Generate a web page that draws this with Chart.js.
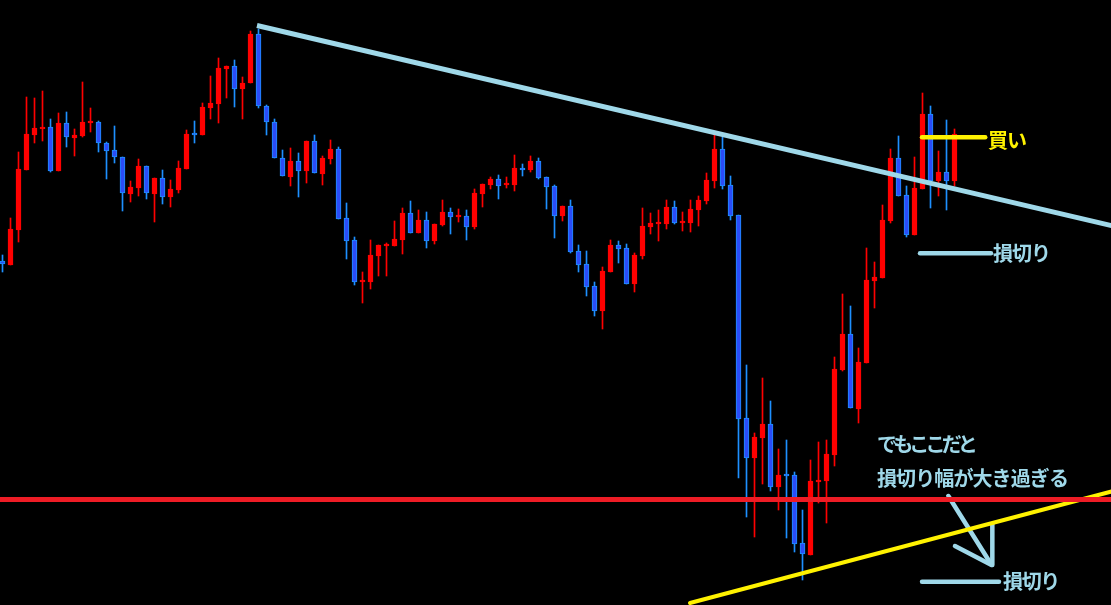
<!DOCTYPE html>
<html>
<head>
<meta charset="utf-8">
<script src="https://cdn.jsdelivr.net/npm/chart.js@4.4.0/dist/chart.umd.min.js"></script>
<style>
  html, body { margin: 0; padding: 0; background: #000; }
  #wrap { width: 1111px; height: 605px; background: #000; }
</style>
</head>
<body>
<div id="wrap"><canvas id="c" width="1111" height="605"></canvas></div>
<script>
// ---- Candle data (price units, 120 bars) ----
const candleOpen = [
  344,340,375,435,470,476,478,434,482,467,469,482,483,462,455,448,411,417,439,411,
  427,408,415,436,471,470,497,501,536,539,516,522,571,499,483,447,428,444,434,464,
  431,446,456,387,365,323,323,349,359,359,365,392,372,385,364,380,393,388,389,378,
  411,420,426,420,420,436,435,444,428,419,389,399,354,341,319,294,333,360,357,321,
  349,378,381,381,398,382,382,395,404,424,456,420,390,187,147,167,181,118,130,130,
  62,50,123,124,150,235,271,196,242,324,327,384,447,410,370,416,491,424,433,424
];
const candleHigh = [
  350,387,453,508,507,514,486,492,493,476,523,497,484,463,479,448,424,446,439,427,
  435,425,444,475,484,502,529,547,539,545,528,574,576,500,486,455,457,452,464,470,
  449,465,458,402,368,333,365,360,362,384,397,404,395,393,381,405,397,396,395,416,
  421,428,430,428,450,441,449,447,428,420,399,405,360,354,323,338,365,364,361,352,
  397,392,395,405,404,393,405,409,432,471,468,429,390,240,172,227,204,156,165,133,
  95,145,163,165,248,311,299,257,357,343,400,456,469,419,448,512,499,454,485,476
];
const candleLow = [
  333,340,363,435,462,464,433,434,458,449,468,473,453,426,442,394,403,409,406,383,
  401,398,412,436,462,470,486,482,507,498,486,522,497,470,447,429,419,408,422,432,
  420,441,386,346,320,302,316,329,329,359,351,372,372,357,361,379,371,383,365,376,
  398,416,406,417,414,429,433,426,396,367,384,352,333,309,289,276,333,342,321,313,
  346,371,364,376,381,374,373,379,401,417,416,385,127,88,68,121,114,95,67,53,
  25,50,102,82,139,234,197,182,242,297,327,382,409,368,370,416,397,409,395,419
];
const candleClose = [
  341,376,436,471,477,478,434,482,468,470,483,483,462,454,448,412,418,439,412,427,
  408,416,437,471,470,498,502,537,539,516,522,571,499,483,447,429,444,434,464,432,
  447,456,386,364,323,324,350,360,360,366,392,372,385,364,381,393,388,389,378,412,
  421,426,419,421,437,435,444,427,418,389,399,353,340,318,294,334,360,356,321,350,
  379,382,382,398,382,383,396,405,425,456,419,389,186,147,168,181,118,130,129,61,
  51,124,124,151,236,271,197,243,325,328,385,447,409,370,417,491,424,433,424,471
];

// ---- Drawn objects (price/bar-index units) ----
const resistanceLine = [{x: 31.81, y: 579.5}, {x: 139.69, y: 377.4}];
const horizontalLevel = [{x: -1, y: 105.5}, {x: 140, y: 105.5}];
const supportLine = [{x: 85.94, y: 2}, {x: 139.69, y: 115.8}];
const buyMarker = [{x: 114.94, y: 467.7}, {x: 122.84, y: 467.7}];
const stopMarkerHigh = [{x: 114.69, y: 351.7}, {x: 123.56, y: 351.7}];
const stopMarkerLow = [{x: 114.94, y: 23.3}, {x: 124.56, y: 23.3}];
const arrowShaft = [{x: 118.23, y: 109}, {x: 123.56, y: 41}];
const arrowHeadA = [{x: 119.06, y: 59}, {x: 123.63, y: 40}];
const arrowHeadB = [{x: 123.73, y: 81}, {x: 123.73, y: 40}];

const labelTexts = ['買い', '損切り', 'でもここだと', '損切り幅が大き過ぎる', '損切り'];
const labelX = [123.19, 123.81, 109.31, 109.31, 125.06];
const labelY = [465, 352, 161, 126.5, 24];

// ---- styles ----
const UP = '#ff0000', DOWN_FILL = '#2b4cf7', DOWN_EDGE = '#1e90ff';
const LBLUE = '#9fd8e9', YEL = '#fff200', HRED = '#ee1c25';
const labelColors = [YEL, LBLUE, LBLUE, LBLUE, LBLUE];
const labelWidths = [38, 57, 97, 191, 56];

const idx = candleOpen.map((_, i) => i);
const isUp = idx.map(i => candleClose[i] >= candleOpen[i]);

function lineDs(data, color, width, cap) {
  return {
    type: 'line', data, borderColor: color, borderWidth: width,
    borderCapStyle: cap || 'butt', pointRadius: 0, pointHoverRadius: 0,
    tension: 0, fill: false, order: 0, clip: false
  };
}

const labelPlugin = {
  id: 'labels',
  afterDatasetsDraw(chart) {
    const ctx = chart.ctx, xs = chart.scales.x, ys = chart.scales.y;
    ctx.save();
    ctx.textBaseline = 'middle';
    ctx.textAlign = 'left';
    labelTexts.forEach((t, k) => {
      ctx.font = 'bold 20px "Noto Sans CJK JP", "Noto Sans", sans-serif';
      ctx.letterSpacing = '0px';
      const w = ctx.measureText(t).width;
      const sp = (labelWidths[k] - w) / t.length;
      ctx.letterSpacing = sp.toFixed(2) + 'px';
      ctx.fillStyle = labelColors[k];
      ctx.fillText(t, xs.getPixelForValue(labelX[k]), ys.getPixelForValue(labelY[k]));
    });
    ctx.restore();
  }
};

new Chart(document.getElementById('c'), {
  type: 'bar',
  data: {
    datasets: [
      lineDs(resistanceLine, LBLUE, 5),
      lineDs(horizontalLevel, HRED, 5),
      lineDs(supportLine, YEL, 4, 'round'),
      lineDs(buyMarker, YEL, 4.5, 'round'),
      lineDs(stopMarkerHigh, LBLUE, 4.5, 'round'),
      lineDs(stopMarkerLow, LBLUE, 4.5, 'round'),
      lineDs(arrowShaft, LBLUE, 4.5, 'round'),
      lineDs(arrowHeadA, LBLUE, 4.5, 'round'),
      lineDs(arrowHeadB, LBLUE, 4.5, 'round'),
      {
        type: 'bar', order: 1, grouped: false,
        data: idx.map(i => ({x: i, y: [candleOpen[i], candleClose[i]]})),
        backgroundColor: idx.map(i => isUp[i] ? UP : DOWN_FILL),
        borderColor: idx.map(i => isUp[i] ? UP : DOWN_EDGE),
        borderWidth: 1, borderSkipped: false, barThickness: 5, minBarLength: 2
      },
      {
        type: 'bar', order: 2, grouped: false,
        data: idx.map(i => ({x: i, y: [candleLow[i], candleHigh[i]]})),
        backgroundColor: idx.map(i => isUp[i] ? UP : DOWN_EDGE),
        borderWidth: 0, barThickness: 1, minBarLength: 1
      }
    ]
  },
  options: {
    responsive: false,
    animation: false,
    events: [],
    layout: { padding: 0 },
    plugins: { legend: { display: false }, tooltip: { enabled: false } },
    scales: {
      x: { type: 'linear', min: -0.3125, max: 138.5625, offset: false, display: false },
      y: { type: 'linear', min: 0, max: 605, display: false }
    }
  },
  plugins: [labelPlugin]
});
</script>
</body>
</html>
